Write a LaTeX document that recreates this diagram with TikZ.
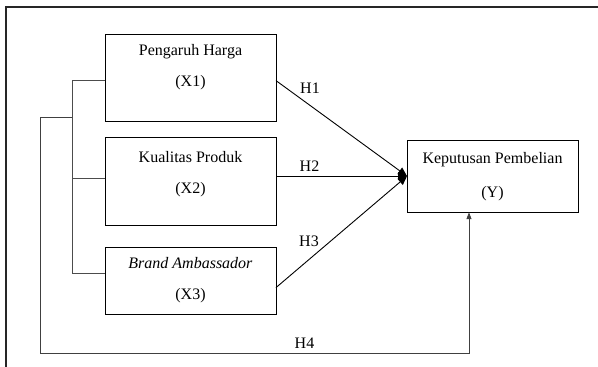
\documentclass[tikz,border=0pt]{standalone}
\usepackage{fontspec}
\setmainfont{Liberation Serif}
\usetikzlibrary{arrows,arrows.meta,positioning,calc}

\begin{document}
\begin{tikzpicture}[
    x=1pt, y=-1pt,
    font=\fontsize{16}{19.2}\selectfont,
    varbox/.style={rectangle, draw, line width=1pt, align=center, minimum width=171pt, inner xsep=0pt, outer sep=0pt, anchor=north},
    effect/.style={->, line width=0.9pt, >={Triangle[length=9pt,width=8pt]}},
    branch/.style={line width=0.8pt, draw=black!70},
    hypo/.style={inner sep=0pt}
]
\useasboundingbox (0,0) rectangle (598,367);

% Page frame
\draw[line width=2pt, black!85] (6,367) -- (6,7) -- (598,7);

% Independent variables
\node[varbox, inner ysep=10.6pt, text depth=23.7pt] (x1) at (190.5,34) {Pengaruh Harga\\[12pt](X1)};
\node[varbox, inner ysep=14.6pt, text depth=16.7pt] (x2) at (190.5,137) {Kualitas Produk\\[12pt](X2)};
\node[varbox, inner ysep=10.6pt, text depth=3.7pt] (x3) at (190.5,247) {\textit{Brand Ambassador}\\[12pt](X3)};

% Dependent variable
\node[varbox, inner ysep=12.6pt, text depth=1.7pt] (y) at (492.5,140) {Keputusan Pembelian\\[15pt](Y)};

% Bracket joining X1, X2, X3
\coordinate (tap) at (72,117);
\coordinate (corner) at (40,353);
\draw[branch] ([yshift=-3pt]x1.west) -| ([xshift=-33pt,yshift=7pt]x3.west) -- ([yshift=7pt]x3.west);
\draw[branch] ([yshift=2.5pt]x2.west) -- ++(-33,0);

% Hypotheses
\draw[effect] ([yshift=-3pt]x1.east) -- (y.west);
\draw[effect] (y.west -| x2.east) -- (y.west);
\draw[effect] ([yshift=-7pt]x3.east) -- (y.west);
\draw[effect, draw=black!75, >={Triangle[length=7pt,width=5pt]}] (tap) -| (corner) -| ([xshift=-23.5pt]y.south);

\node[hypo] (h1) at (310,88) {H1};
\node[hypo] (h2) at (309.5,166.5) {H2};
\node[hypo] (h3) at (309,241) {H3};
\node[hypo] (h4) at (304.5,343.5) {H4};

\end{tikzpicture}
\end{document}
